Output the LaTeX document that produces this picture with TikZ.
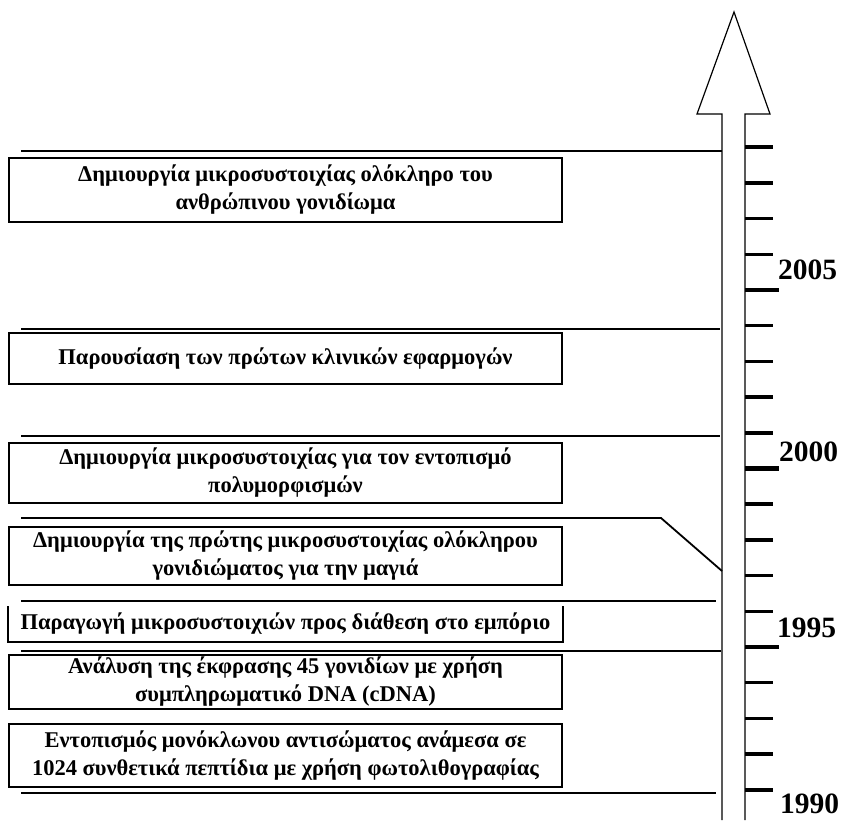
\documentclass[tikz,border=0pt]{standalone}
\usepackage{fontspec}
\setmainfont{Liberation Serif}
\usetikzlibrary{calc}
\definecolor{mavro}{HTML}{000000}

\tikzset{
  gegonos/.style={draw=mavro, line width=2pt, minimum width=553pt, inner sep=0pt, align=center, font=\bfseries\fontsize{22.5}{28}\selectfont},
  diaxoristis/.style={mavro, line width=2pt},
  etos/.style={anchor=base west, inner sep=0pt, text depth=0pt, font=\bfseries\fontsize{29.5}{30}\selectfont},
}

\begin{document}
\begin{tikzpicture}[x=1pt, y=-1pt, line join=miter]
  \useasboundingbox[fill=white] (0,0) rectangle (843,820);

  % Βέλος του χρόνου
  \draw[mavro, line width=1.2pt] (722,820) -- (722,114) -- (697,114) -- (734,12) -- (770,114) -- (745,114) -- (745,820);

  % Υποδιαιρέσεις ανά έτος
  \foreach \k in {1,...,19} {
    \draw[mavro, line width=3.5pt] (745,{825.5-35.7*\k}) -- ++(28,0);
  }
  \foreach \k in {5,10,15} {
    \draw[mavro, line width=4.5pt] (745,{825.5-35.7*\k}) -- ++(34,0);
  }
  \node[etos] (e2005) at (778,279) {2005};
  \node[etos] (e2000) at (779,461) {2000};
  \node[etos] (e1995) at (777,637) {1995};
  \node[etos] (e1990) at (780,813) {1990};

  % Διαχωριστικές γραμμές
  \draw[diaxoristis] (21,151) -- (722,151);
  \draw[diaxoristis] (21,329) -- (720,329);
  \draw[diaxoristis] (21,436) -- (720,436);
  \draw[mavro, line width=1.8pt] (21,518) -- (661,518) -- (722,571);
  \draw[diaxoristis] (21,601) -- (716,601);
  \draw[diaxoristis] (21,651) -- (721,651);
  \draw[diaxoristis] (21,793) -- (716,793);

  % Γεγονότα
  \node[gegonos, minimum height=64pt] (ev1) at (285.5,190) {Δημιουργία μικροσυστοιχίας ολόκληρο του\\ανθρώπινου γονιδίωμα};
  \node[gegonos, minimum height=51pt] (ev2) at (285.5,358.5) {Παρουσίαση των πρώτων κλινικών εφαρμογών};
  \node[gegonos, minimum height=60pt] (ev3) at (285.5,473) {Δημιουργία μικροσυστοιχίας για τον εντοπισμό\\πολυμορφισμών};
  \node[gegonos, minimum height=58pt] (ev4) at (285.5,556) {Δημιουργία της πρώτης μικροσυστοιχίας ολόκληρου\\γονιδιώματος για την μαγιά};
  \node[gegonos, draw=none, minimum height=34pt] (ev5) at (285.5,624) {Παραγωγή μικροσυστοιχιών προς διάθεση στο εμπόριο};
  \draw[mavro, line width=2pt] (ev5.north west) -- (ev5.south west) -- (ev5.south east) -- (ev5.north east);
  \node[gegonos, minimum height=54pt] (ev6) at (285.5,682) {Ανάλυση της έκφρασης 45 γονιδίων με χρήση\\συμπληρωματικό DNA (cDNA)};
  \node[gegonos, minimum height=63pt] (ev7) at (285.5,755.5) {Εντοπισμός μονόκλωνου αντισώματος ανάμεσα σε\\1024 συνθετικά πεπτίδια με χρήση φωτολιθογραφίας};
\end{tikzpicture}
\end{document}
